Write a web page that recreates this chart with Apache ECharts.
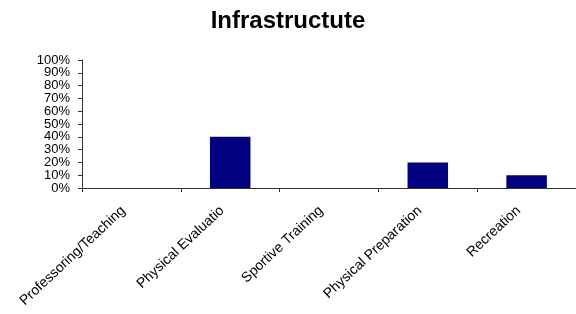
<!DOCTYPE html>
<html><head><meta charset="utf-8">
<script src="https://cdn.jsdelivr.net/npm/echarts@6/dist/echarts.min.js"></script>
<style>html,body{margin:0;padding:0;background:#fff}#c{width:576px;height:314px}</style>
</head><body><div id="c"></div>
<script>
const categories = ["Professoring/Teaching", "Physical Evaluatio", "Sportive Training", "Physical Preparation", "Recreation"];
const values = [0, 40, 0, 20, 10];
const yTicks = [0, 10, 20, 30, 40, 50, 60, 70, 80, 90, 100];

const yMin = yTicks[0], yMax = yTicks[yTicks.length - 1];
const labelStyle = {fontFamily: 'Liberation Sans, Arial', fontSize: 13, color: '#000', margin: 12, hideOverlap: false};
const chart = echarts.init(document.getElementById('c'));
chart.setOption({
  animation: false,
  backgroundColor: '#fff',
  title: {
    text: 'Infrastructute', left: 'center', top: 4,
    textStyle: {fontFamily: 'Liberation Sans, Arial', fontSize: 24, fontWeight: 'bold', color: '#000'}
  },
  grid: {left: 82, width: 502, top: 60, height: 128, containLabel: false},
  xAxis: {
    type: 'category', data: categories,
    axisLine: {lineStyle: {color: '#333', width: 1}},
    axisTick: {show: true, length: 4, lineStyle: {color: '#333'}},
    axisLabel: {interval: 0, rotate: 43, fontFamily: 'Liberation Sans, Arial', fontSize: 14, color: '#000', margin: 13, padding: [0, 11, 0, 0]}
  },
  yAxis: [{
    type: 'value', min: yMin, max: yMax, interval: 10, position: 'left',
    axisLine: {show: true, lineStyle: {color: '#333'}},
    axisTick: {show: true, length: 4, lineStyle: {color: '#333'}},
    splitLine: {show: false},
    axisLabel: Object.assign({formatter: '{value}%', showMinLabel: false, showMaxLabel: false}, labelStyle)
  }, {
    type: 'value', min: yMin, max: yMax, interval: 10, position: 'left', offset: 0,
    axisLine: {show: false},
    axisTick: {show: true, length: 4, lineStyle: {color: '#333'}},
    splitLine: {show: false},
    axisLabel: Object.assign({formatter: v => (v === yMin || v === yMax) ? v + '%' : '', showMinLabel: true, showMaxLabel: true}, labelStyle)
  }],
  series: [{
    type: 'bar', data: values, barWidth: '41%', yAxisIndex: 0,
    itemStyle: {color: '#000080', borderWidth: 0}
  }]
});
</script></body></html>
